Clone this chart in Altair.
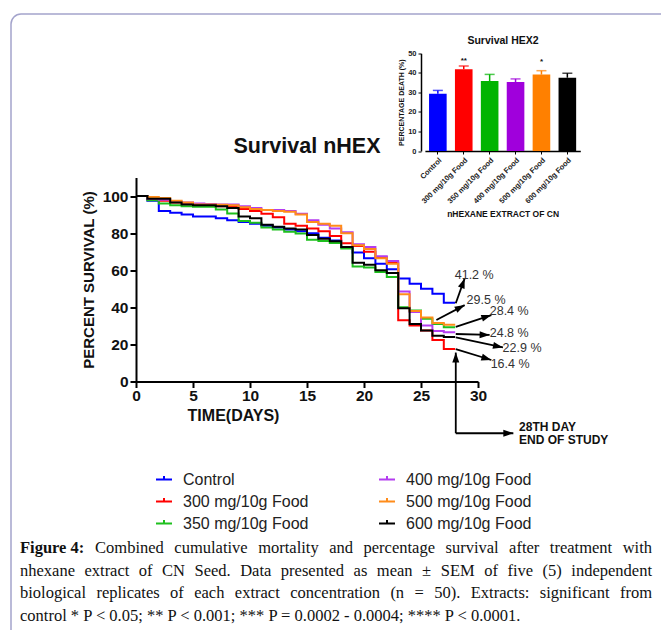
import math
import altair as alt
import pandas as pd

# ---------------- data ----------------
groups = ["Control", "300 mg/10g Food", "350 mg/10g Food",
          "400 mg/10g Food", "500 mg/10g Food", "600 mg/10g Food"]
days = list(range(29))

surv_control = [100, 97.5, 92, 91, 90, 89, 89, 88, 87, 86, 85, 84, 83, 82, 81,
                80, 77.5, 76, 72.5, 69.5, 66.5, 63.5, 60.5, 55.5, 52.7, 50, 47.3, 42.5, 42.5]
surv_300 = [100, 98.5, 97.5, 96.5, 96, 95.5, 95, 94.5, 94.5, 93, 92, 90.5, 88.5, 85, 84,
            82.5, 81, 78.5, 74.5, 73, 70, 67, 64, 33, 30.2, 27.5, 22.4, 17.5, 17.5]
surv_350 = [100, 97.8, 96, 95, 94.5, 94.2, 94.2, 92.8, 90.6, 86.6, 85.6, 83, 82, 80.7, 79.8,
            76.5, 75.8, 74.7, 71.7, 62, 61.5, 59, 56.3, 40, 38.3, 33.8, 31, 29.2, 29.2]
surv_400 = [100, 98.5, 98, 97, 96.5, 96, 95.7, 95.5, 95.5, 94.5, 93.5, 92.5, 92.5, 92, 90.5,
            87, 84.5, 82.5, 80.5, 74, 72.5, 67.5, 65, 48.5, 37.5, 30.2, 27.2, 26.5, 26.5]
surv_500 = [100, 99.5, 99, 97.5, 96.5, 95.5, 95.5, 95.3, 95, 94, 93, 92.5, 92, 91.5, 90,
            86, 85, 84, 80, 73.5, 71.5, 66.5, 63.5, 47, 38, 34.5, 31.6, 30.6, 30.6]
surv_600 = [100, 98.5, 98.5, 96.5, 95.5, 95, 95, 94.5, 93.5, 89, 88, 84.5, 83.5, 82.5, 82,
            79, 77, 75.6, 72.5, 64, 63, 60, 58.5, 39.5, 31, 27.5, 24.7, 24, 24]
series = [surv_control, surv_300, surv_350, surv_400, surv_500, surv_600]

line_colors = ["#0000ff", "#ff0000", "#1ec01e", "#b43cf0", "#ff8c1a", "#000000"]
bar_colors = ["#0000ff", "#ff0000", "#00b400", "#a000dc", "#ff8000", "#000000"]

# end-of-curve annotations (days, % survival)
ann_labels = ["41.2 %", "29.5 %", "28.4 %", "24.8 %", "22.9 %", "16.4 %"]
arrow_from_day = [28.05, 26.35, 28.05, 28.05, 28.05, 28.05]
arrow_from_val = [42.2, 33.2, 29.5, 25.6, 23.8, 17.4]
arrow_to_day = [28.83, 28.83, 31.17, 31.02, 32.19, 31.17]
arrow_to_val = [55.6, 41.2, 35.8, 25.1, 18.4, 11.6]
label_day = [27.96, 29.0, 31.03, 31.03, 32.16, 31.11]
label_val = [57.4, 43.9, 38.2, 26.3, 17.9, 9.4]

# 28th day marker
study_day = 28.05
study_tip_val = 15.6
study_corner_val = -27.9
study_arrow_end_day = 33.1
study_text = ["28TH DAY", "END OF STUDY"]
study_text_day = [33.6, 33.6]
study_text_val = [-24.3, -31.3]

# inset bar chart
death_pct = [29.3, 41.8, 35.8, 35.3, 39.1, 37.5]
death_sem = [1.7, 1.7, 3.4, 1.6, 2.0, 2.3]
sig_groups = ["300 mg/10g Food", "500 mg/10g Food"]
sig_marks = ["**", "*"]
sig_val = [46.2, 45.3]

caption_lead = "Figure 4:"
caption_lines = [
    "Combined cumulative mortality and percentage survival after treatment with",
    "nhexane extract of CN Seed. Data presented as mean \u00b1 SEM of five (5) independent",
    "biological replicates of each extract concentration (n = 50). Extracts:  significant from",
    "control * P < 0.05; ** P < 0.001; *** P = 0.0002 - 0.0004; **** P < 0.0001.",
]

# ---------------- layout ----------------
W, H = 342, 204
PAD = {"left": 128, "top": 169.5, "right": 183, "bottom": 248.5}
PX_DAY = W / 30
PX_VAL = H / 110
SANS = "Liberation Sans"
SERIF = "Liberation Serif"
ARROW = "M0,0L0.7,2L-0.7,2Z"
CAP_SIZE = 16.5
CAP_LEFT, CAP_RIGHT = -116, 516
CAP_Y0, CAP_DY = 375.5, 22.5

xs = alt.Scale(domain=[0, 30], nice=False, zero=False)
ys = alt.Scale(domain=[0, 110], nice=False, zero=False)

# Times metrics (per 1000 em) used to justify the caption like the reference
_TW = {" ": 250, "(": 333, ")": 333, "*": 500, ",": 250, "-": 333, ".": 250, ":": 278,
       ";": 278, "<": 564, "=": 564, "\u00b1": 564,
       "A": 722, "C": 667, "D": 722, "E": 611, "F": 556, "M": 889, "N": 722, "P": 556, "S": 556,
       "a": 444, "b": 500, "c": 444, "d": 500, "e": 444, "f": 333, "g": 500, "h": 500, "i": 278,
       "j": 278, "k": 500, "l": 278, "m": 778, "n": 500, "o": 500, "p": 500, "q": 500, "r": 333,
       "s": 389, "t": 278, "u": 500, "v": 500, "w": 722, "x": 500, "y": 500, "z": 444}
_TWB = {" ": 250, "F": 611, "i": 278, "g": 500, "u": 556, "r": 444, "e": 444, ":": 333}


def tw(s, bold=False):
    tab = _TWB if bold else _TW
    return sum(tab.get(c, 500) for c in s) / 1000 * CAP_SIZE


def heading(a, b, c, d):
    dx = (c - a) * PX_DAY
    dy = -(d - b) * PX_VAL
    return math.degrees(math.atan2(dx, -dy)) % 360


line_df = pd.DataFrame([
    {"day": d, "surv": v, "group": g}
    for g, vals in zip(groups, series) for d, v in zip(days, vals)
])

x_axis = alt.Axis(values=[0, 5, 10, 15, 20, 25, 30], title="TIME(DAYS)",
                  titleFont=SANS, titleFontSize=16, titleFontWeight="bold", titleColor="#111",
                  titleX=97, titlePadding=3,
                  labelFont=SANS, labelFontSize=15.5, labelFontWeight="bold", labelColor="#111",
                  labelPadding=1, tickSize=6, tickWidth=2, tickColor="#000",
                  domainColor="#000", domainWidth=2, grid=False, labelFlush=False)
y_axis = alt.Axis(values=[0, 20, 40, 60, 80, 100], title="PERCENT SURVIVAL (%)",
                  titleFont=SANS, titleFontSize=15, titleFontWeight="bold", titleColor="#111",
                  titlePadding=6,
                  labelFont=SANS, labelFontSize=15.5, labelFontWeight="bold", labelColor="#111",
                  labelPadding=2, tickSize=6, tickWidth=2, tickColor="#000",
                  domainColor="#000", domainWidth=2, grid=False, labelFlush=False)

legend = alt.Legend(orient="none", legendX=19, legendY=293, columns=2, title=None,
                    labelFont=SANS, labelFontSize=16, labelColor="#222",
                    symbolType="M-1,0H1M0,0V-0.45", symbolSize=256, symbolStrokeWidth=2,
                    labelOffset=10, columnPadding=66, rowPadding=5, padding=0, labelLimit=400)

one = pd.DataFrame({"k": [0]})
border = alt.Chart(one).mark_rect(fill="transparent", stroke="#a4a4cc", strokeWidth=1.5,
                                  cornerRadius=10).encode(
    x=alt.value(-125), x2=alt.value(700), y=alt.value(-163.5), y2=alt.value(700))

lines = alt.Chart(line_df).mark_line(interpolate="step-after", strokeWidth=2).encode(
    x=alt.X("day:Q", scale=xs, axis=x_axis),
    y=alt.Y("surv:Q", scale=ys, axis=y_axis),
    color=alt.Color("group:N", scale=alt.Scale(domain=groups, range=line_colors),
                    legend=legend),
)

arrow_df = pd.DataFrame({
    "fd": arrow_from_day, "fv": arrow_from_val, "td": arrow_to_day, "tv": arrow_to_val,
    "ang": [heading(a, b, c, d) for a, b, c, d in
            zip(arrow_from_day, arrow_from_val, arrow_to_day, arrow_to_val)],
    "ld": label_day, "lv": label_val, "label": ann_labels,
})
study_df = pd.DataFrame({
    "fd": [study_day, study_day], "fv": [study_corner_val, study_corner_val],
    "td": [study_day, study_arrow_end_day], "tv": [study_tip_val, study_corner_val],
})
study_df["ang"] = [heading(a, b, c, d) for a, b, c, d in
                   zip(study_df.fd, study_df.fv, study_df.td, study_df.tv)]
study_txt_df = pd.DataFrame({"d": study_text_day, "v": study_text_val, "t": study_text})
all_arrows = pd.concat([arrow_df[["fd", "fv", "td", "tv", "ang"]], study_df], ignore_index=True)

arrow_rules = alt.Chart(all_arrows).mark_rule(color="#000", strokeWidth=1.8).encode(
    x=alt.X("fd:Q", scale=xs, axis=None), y=alt.Y("fv:Q", scale=ys, axis=None),
    x2="td:Q", y2="tv:Q")
arrow_heads = alt.Chart(all_arrows).mark_point(shape=ARROW, filled=True, size=100,
                                               color="#000", opacity=1, strokeWidth=0).encode(
    x=alt.X("td:Q", scale=xs, axis=None), y=alt.Y("tv:Q", scale=ys, axis=None),
    angle=alt.Angle("ang:Q", scale=None))
arrow_text = alt.Chart(arrow_df).mark_text(align="left", baseline="middle", font=SANS,
                                           fontSize=12.5, color="#333").encode(
    x=alt.X("ld:Q", scale=xs, axis=None), y=alt.Y("lv:Q", scale=ys, axis=None), text="label:N")
study_txt = alt.Chart(study_txt_df).mark_text(align="left", baseline="middle", font=SANS,
                                              fontSize=12, fontWeight="bold", color="#111").encode(
    x=alt.X("d:Q", scale=xs, axis=None), y=alt.Y("v:Q", scale=ys, axis=None), text="t:N")

title_txt = alt.Chart(one).mark_text(text="Survival nHEX", font=SANS, fontSize=21.5,
                                     fontWeight="bold", color="#111", align="center",
                                     baseline="middle").encode(
    x=alt.value(171), y=alt.value(-30.5))

# caption: justified words (lines 1-3), last line left-aligned
rows = []
for i, line in enumerate(caption_lines):
    words = line.split()
    y = CAP_Y0 + i * CAP_DY
    if i == 0:
        items = [(caption_lead, True)] + [(w, False) for w in words]
    else:
        items = [(w, False) for w in words]
    if i < len(caption_lines) - 1:
        total = sum(tw(w, b) for w, b in items)
        gap = (CAP_RIGHT - CAP_LEFT - total) / (len(items) - 1)
        x = CAP_LEFT
        for w, b in items:
            rows.append({"px": x, "py": y, "t": w, "b": b})
            x += tw(w, b) + gap
    else:
        rows.append({"px": CAP_LEFT, "py": y, "t": line, "b": False})
cap_df = pd.DataFrame(rows)
cap_reg = alt.Chart(cap_df[~cap_df.b]).mark_text(font=SERIF, fontSize=CAP_SIZE, color="#111",
                                                 align="left", baseline="alphabetic").encode(
    x=alt.X("px:Q", scale=None, axis=None), y=alt.Y("py:Q", scale=None, axis=None), text="t:N")
cap_bold = alt.Chart(cap_df[cap_df.b]).mark_text(font=SERIF, fontSize=CAP_SIZE, color="#111",
                                                 fontWeight="bold", align="left",
                                                 baseline="alphabetic").encode(
    x=alt.X("px:Q", scale=None, axis=None), y=alt.Y("py:Q", scale=None, axis=None), text="t:N")

# ---------------- inset ----------------
bar_df = pd.DataFrame({"group": groups, "death": death_pct,
                       "top": [d + s for d, s in zip(death_pct, death_sem)]})
sig_df = pd.DataFrame({"group": sig_groups, "mark": sig_marks, "v": sig_val})

bx = alt.Scale(domain=groups, range=[288.9, 444.3], paddingInner=0.32, paddingOuter=0.16)
by = alt.Scale(domain=[0, 50], range=[-26.5, -124.2], nice=False, zero=True)
bcol = alt.Scale(domain=groups, range=bar_colors)

bx_axis = alt.Axis(orient="bottom", offset=-230.5, labelAngle=-45, title="nHEXANE EXTRACT OF CN",
                   titleFont=SANS, titleFontSize=8.5, titleFontWeight="bold", titleColor="#111",
                   titlePadding=5, labelFont=SANS, labelFontSize=7.5, labelFontWeight="bold",
                   labelColor="#222", labelPadding=2, tickSize=3, tickColor="#000",
                   domainColor="#000", domainWidth=1.5, grid=False)
by_axis = alt.Axis(orient="left", offset=-285, values=[0, 10, 20, 30, 40, 50],
                   title="PERCENTAGE DEATH (%)", titleFont=SANS, titleFontSize=7,
                   titleFontWeight="bold", titleColor="#111", titlePadding=3,
                   labelFont=SANS, labelFontSize=7.5, labelFontWeight="bold", labelColor="#222",
                   labelPadding=2, tickSize=3, tickColor="#000", domainColor="#000",
                   domainWidth=1.5, grid=False)

bars = alt.Chart(bar_df).mark_bar().encode(
    x=alt.X("group:N", scale=bx, axis=bx_axis),
    y=alt.Y("death:Q", scale=by, axis=by_axis),
    color=alt.Color("group:N", scale=bcol, legend=None))
err = alt.Chart(bar_df).mark_rule(strokeWidth=1.5).encode(
    x=alt.X("group:N", scale=bx, axis=None), y=alt.Y("death:Q", scale=by, axis=None),
    y2="top:Q", color=alt.Color("group:N", scale=bcol, legend=None))
caps = alt.Chart(bar_df).mark_tick(thickness=1.5, size=10).encode(
    x=alt.X("group:N", scale=bx, axis=None), y=alt.Y("top:Q", scale=by, axis=None),
    color=alt.Color("group:N", scale=bcol, legend=None))
sig = alt.Chart(sig_df).mark_text(font=SANS, fontSize=8, fontWeight="bold", color="#111",
                                  baseline="middle").encode(
    x=alt.X("group:N", scale=bx, axis=None), y=alt.Y("v:Q", scale=by, axis=None), text="mark:N")
inset_title = alt.Chart(one).mark_text(text="Survival HEX2", font=SANS, fontSize=10.5,
                                       fontWeight="bold", color="#111", align="center",
                                       baseline="middle").encode(
    x=alt.value(367), y=alt.value(-136.5))

chart = alt.layer(
    border, lines, arrow_rules, arrow_heads, arrow_text, study_txt, title_txt,
    cap_reg, cap_bold, bars, err, caps, sig, inset_title
).resolve_scale(
    x="independent", y="independent", color="independent"
).properties(
    width=W, height=H, padding=PAD, autosize=alt.AutoSizeParams(type="none"),
    background="white",
).configure_view(stroke=None)

chart.save("out.html", embed_options={"renderer": "svg", "actions": False})
